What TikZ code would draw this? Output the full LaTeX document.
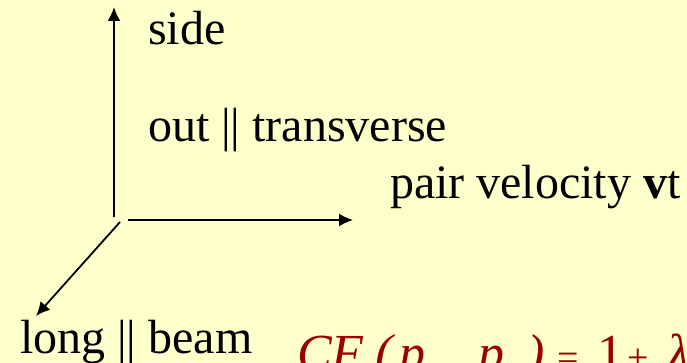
\documentclass[tikz,border=0pt]{standalone}
\usepackage{fontspec}
\setmainfont{Liberation Serif}
\usetikzlibrary{arrows.meta}
\definecolor{bgyellow}{HTML}{FFFFCC}
\definecolor{formred}{HTML}{990000}
\newcommand{\fpart}[2]{\rlap{#2}\hspace{#1pt}}
\newcommand{\smallop}[1]{{\fontsize{38}{40}\selectfont\upshape #1}}
\newcommand{\lowsub}[1]{\raisebox{-16pt}{\fontsize{34}{36}\selectfont\upshape #1}}
\tikzset{
  lbl/.style={anchor=base west, inner sep=0pt, outer sep=0pt, font=\fontsize{48}{52}\selectfont},
  formula/.style={anchor=base west, inner sep=0pt, outer sep=0pt, text=formred, font=\fontsize{52}{56}\selectfont\itshape},
  axis/.style={line width=1.8pt, -{Latex[length=14pt,width=13pt]}}
}
\begin{document}
\begin{tikzpicture}[x=1pt,y=-1pt]
\useasboundingbox (0,0) rectangle (687,363);
\fill[bgyellow] (0,0) rectangle (687,363);
\clip (0,0) rectangle (687,363);
\coordinate (vstart) at (114,217);
\coordinate (vend) at (114,7);
\coordinate (hstart) at (128,220);
\coordinate (hend) at (353,220);
\coordinate (dstart) at (120,222);
\coordinate (dend) at (36,316);
\draw[axis] (vstart) -- (vend);
\draw[axis] (hstart) -- (hend);
\draw[axis] (dstart) -- (dend);
\node[lbl] (side) at (148,45) {side};
\node[lbl] (out) at (148,142) {out || transverse};
\node[lbl] (pair) at (390,199) {pair velocity \textbf{v}t};
\node[lbl] (long) at (20,353) {long || beam};
\node[formula] (cf) at (297,370) {\fpart{78}{CF}\fpart{25}{(}\fpart{78}{p\lowsub{1},}\fpart{49}{p\lowsub{2}}\fpart{30}{)}\fpart{40}{\smallop{=}}\fpart{30}{\textup{1}}\fpart{40}{\smallop{+}}λ};
\end{tikzpicture}
\end{document}
